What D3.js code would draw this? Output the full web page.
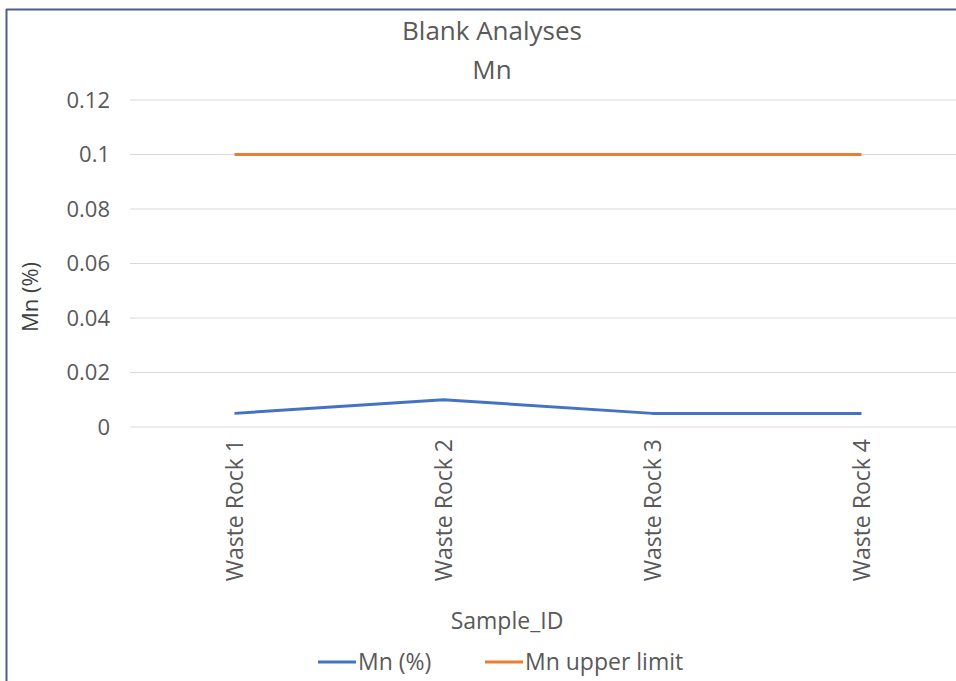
<!DOCTYPE html>
<html lang="en">
<head>
<script src="https://d3js.org/d3.v7.min.js"></script>
<style>
  body { margin: 0; background: #fff; }
  text { font-family: "Open Sans", sans-serif; fill: #595959; }
</style>
</head>
<body>
<script>
  // Data
  const samples = ["Waste Rock 1", "Waste Rock 2", "Waste Rock 3", "Waste Rock 4"];
  const mnValues = [0.005, 0.01, 0.005, 0.005];
  const mnLimit = [0.1, 0.1, 0.1, 0.1];
  const yTicks = [0, 0.02, 0.04, 0.06, 0.08, 0.1, 0.12];

  const width = 956, height = 681;
  const font = "'Open Sans', sans-serif";
  const svg = d3.select("body").append("svg")
    .attr("width", width).attr("height", height);

  // frame edge (top + left)
  svg.append("line").attr("x1", 6).attr("x2", width).attr("y1", 9.5).attr("y2", 9.5)
    .attr("stroke", "#4f5d8c").attr("stroke-width", 2);
  svg.append("line").attr("x1", 6.5).attr("x2", 6.5).attr("y1", 9).attr("y2", height)
    .attr("stroke", "#4f5d8c").attr("stroke-width", 2);

  const x = d3.scalePoint().domain(samples).range([130, 966]).padding(0.5);
  const y = d3.scaleLinear().domain([0, 0.12]).range([427, 100]);

  // gridlines
  svg.append("g").selectAll("line").data(yTicks).enter().append("line")
    .attr("x1", 130).attr("x2", 966)
    .attr("y1", d => y(d)).attr("y2", d => y(d))
    .attr("stroke", "#d9d9d9").attr("stroke-width", 1);

  // y axis labels
  const yAxis = svg.append("g").attr("transform", "translate(110,0)")
    .call(d3.axisLeft(y).tickValues(yTicks).tickSize(0).tickPadding(0)
      .tickFormat(d => d === 0 ? "0" : String(+d.toFixed(2))));
  yAxis.select(".domain").remove();
  yAxis.selectAll("text").style("font-size", "22px").attr("fill", "#595959")
    .style("font-family", font);

  // x axis labels, rotated
  const xAxis = svg.append("g").attr("transform", "translate(0,427)")
    .call(d3.axisBottom(x).tickSize(0).tickPadding(0));
  xAxis.select(".domain").remove();
  xAxis.selectAll("text")
    .attr("transform", "rotate(-90)")
    .attr("x", -12).attr("y", 0).attr("dy", "0.35em")
    .attr("text-anchor", "end")
    .style("font-size", "23px").attr("fill", "#595959")
    .style("font-family", font);

  // lines
  const line = d3.line().x((d, i) => x(samples[i])).y(d => y(d));
  svg.append("path").datum(mnValues)
    .attr("fill", "none").attr("stroke", "#4472C4").attr("stroke-width", 3)
    .attr("stroke-linejoin", "round").attr("d", line);
  svg.append("path").datum(mnLimit)
    .attr("fill", "none").attr("stroke", "#ED7D31").attr("stroke-width", 3)
    .attr("d", line);

  // titles
  svg.append("text").attr("x", 492).attr("y", 40).attr("text-anchor", "middle")
    .style("font-size", "26px").text("Blank Analyses");
  svg.append("text").attr("x", 492).attr("y", 79).attr("text-anchor", "middle")
    .style("font-size", "26px").text("Mn");

  svg.append("text").attr("transform", "translate(38,297) rotate(-90)")
    .attr("text-anchor", "middle").style("font-size", "22px")
    .style("fill", "#404040").text("Mn (%)");
  svg.append("text").attr("x", 507).attr("y", 629).attr("text-anchor", "middle")
    .style("font-size", "23px").text("Sample_ID");

  // legend
  const legend = [
    { name: "Mn (%)", color: "#4472C4", x: 318 },
    { name: "Mn upper limit", color: "#ED7D31", x: 485 }
  ];
  const lg = svg.append("g").selectAll("g").data(legend).enter().append("g")
    .attr("transform", d => `translate(${d.x},662)`);
  lg.append("line").attr("x1", 0).attr("x2", 38).attr("y1", 0).attr("y2", 0)
    .attr("stroke", d => d.color).attr("stroke-width", 3);
  lg.append("text").attr("x", 40).attr("y", 8).style("font-size", "23px").text(d => d.name);
</script>
</body>
</html>
